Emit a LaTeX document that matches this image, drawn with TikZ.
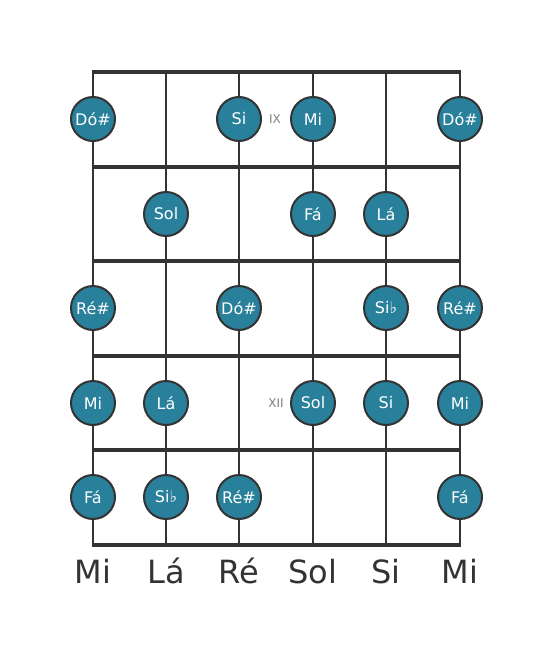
\documentclass[tikz,border=0pt]{standalone}
\usepackage{fontspec}
\setmainfont{DejaVu Sans}
\definecolor{azulnota}{RGB}{41,128,155}
\definecolor{traco}{RGB}{51,51,51}
\tikzset{
  nota/.style={circle,draw=traco,line width=2pt,fill=azulnota,text=white,minimum size=44pt,inner sep=0pt,font=\fontsize{16}{16}\selectfont},
  corda/.style={traco,line width=2.6pt},
  traste/.style={traco,line width=4.5pt},
  casa/.style={text=gray,font=\fontsize{12}{12}\selectfont},
  afinacao/.style={text=traco,anchor=base,font=\fontsize{32}{32}\selectfont},
}
\begin{document}
\begin{tikzpicture}[x=1pt,y=-1pt]
\useasboundingbox (0,0) rectangle (553,656);
% cordas e trastes
\foreach \i/\x in {1/93,2/166,3/239,4/313,5/386,6/460} {
  \coordinate (t\i) at (\x,72);
  \coordinate (b\i) at (\x,545);
}
\foreach \j/\y in {0/72,1/167,2/261,3/356,4/450,5/545} {
  \coordinate (e\j) at (91.7,\y);
  \coordinate (d\j) at (461.3,\y);
}
\foreach \i in {1,...,6} \draw[corda] (t\i) -- (b\i);
\foreach \j in {0,...,5} \draw[traste] (e\j) -- (d\j);
% casa 1
\node[nota] (a1) at (93,119) {Dó\#};
\node[nota] (a3) at (239,119) {Si};
\node[nota] (a4) at (313,119) {Mi};
\node[nota] (a6) at (460,119) {Dó\#};
\node[casa] (ix) at (275,119) {IX};
% casa 2
\node[nota] (b2n) at (166,214) {Sol};
\node[nota] (b4n) at (313,214) {Fá};
\node[nota] (b5n) at (386,214) {Lá};
% casa 3
\node[nota] (c1) at (93,308) {Ré\#};
\node[nota] (c3) at (239,308) {Dó\#};
\node[nota] (c5) at (386,308) {Si♭};
\node[nota] (c6) at (460,308) {Ré\#};
% casa 4
\node[nota] (d1n) at (93,403) {Mi};
\node[nota] (d2n) at (166,403) {Lá};
\node[nota] (d4n) at (313,403) {Sol};
\node[nota] (d5n) at (386,403) {Si};
\node[nota] (d6n) at (460,403) {Mi};
\node[casa] (xii) at (276,403) {XII};
% casa 5
\node[nota] (e1n) at (93,497) {Fá};
\node[nota] (e2n) at (166,497) {Si♭};
\node[nota] (e3n) at (239,497) {Ré\#};
\node[nota] (e6n) at (460,497) {Fá};
% afinacao
\node[afinacao] (m1) at (93,583) {Mi};
\node[afinacao] (m2) at (166,583) {Lá};
\node[afinacao] (m3) at (239,583) {Ré};
\node[afinacao] (m4) at (313,583) {Sol};
\node[afinacao] (m5) at (386,583) {Si};
\node[afinacao] (m6) at (460,583) {Mi};
\end{tikzpicture}
\end{document}
